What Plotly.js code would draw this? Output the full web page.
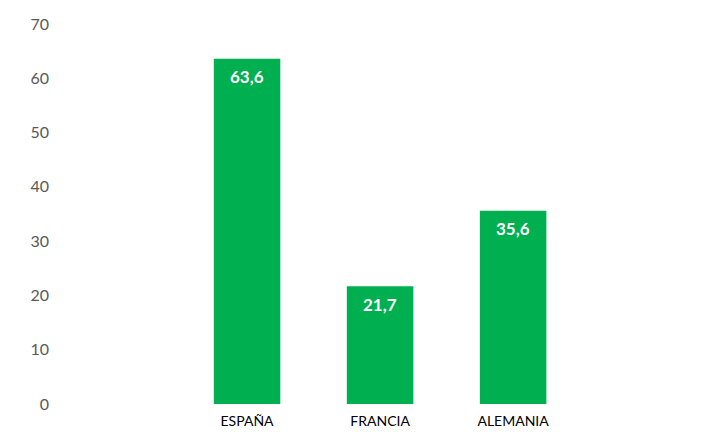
<!DOCTYPE html>
<html>
<head>
<meta charset="utf-8">
<script src="https://cdn.plot.ly/plotly-3.0.1.min.js"></script>
<style>html,body{margin:0;padding:0;background:#fff;}#chart{width:720px;height:437px;}</style>
</head>
<body>
<div id="chart"></div>
<script>
const categories = ["ESPAÑA", "FRANCIA", "ALEMANIA"];
const values = [63.6, 21.7, 35.6];
const yTicks = [0, 10, 20, 30, 40, 50, 60, 70];

const trace = {
  type: "bar",
  x: categories,
  y: values,
  width: 0.5,
  marker: { color: "#00B050" },
  hoverinfo: "none"
};

const labels = categories.map((c, i) => ({
  x: c,
  y: values[i],
  xref: "x",
  yref: "y",
  text: values[i].toFixed(1).replace(".", ","),
  showarrow: false,
  yanchor: "middle",
  xanchor: "center",
  yshift: -18,
  font: { family: "Lato, 'Open Sans', sans-serif", size: 17, color: "#ffffff", weight: "bold" }
}));

const layout = {
  width: 720,
  height: 437,
  margin: { l: 60, r: 10, t: 24, b: 33 },
  paper_bgcolor: "#ffffff",
  plot_bgcolor: "#ffffff",
  separators: ",.",
  showlegend: false,
  font: { family: "Lato, 'Open Sans', sans-serif" },
  annotations: labels,
  xaxis: {
    type: "category",
    range: [-1.406, 3.48],
    showgrid: false,
    zeroline: false,
    showline: false,
    ticks: "",
    ticklabelstandoff: 7,
    tickfont: { size: 14, color: "#000000" },
    fixedrange: true
  },
  yaxis: {
    range: [0, 70],
    tickvals: yTicks,
    ticktext: yTicks.map(String),
    showgrid: false,
    zeroline: false,
    showline: false,
    ticks: "",
    ticklabelstandoff: 10,
    tickfont: { size: 16, color: "#595959" },
    fixedrange: true
  }
};

Plotly.newPlot("chart", [trace], layout, { displayModeBar: false, staticPlot: true });
</script>
</body>
</html>
